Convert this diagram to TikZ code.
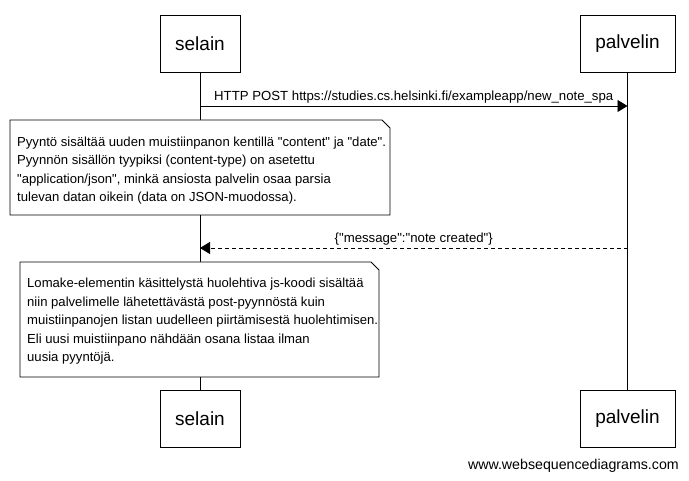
\documentclass[tikz,border=0pt]{standalone}
\usepackage{fontspec}
\setmainfont{Liberation Sans}[Ligatures=TeXOff]
\usetikzlibrary{arrows.meta}
\tikzset{
  actor/.style={draw, line width=0.9pt, fill=white, minimum width=80pt, minimum height=57pt, inner sep=0pt, font=\fontsize{19}{22}\selectfont},
  lifeline/.style={line width=0.9pt},
  msg/.style={line width=0.9pt, -{Triangle[length=10pt,width=12pt]}},
  reply/.style={msg, dash pattern=on 4pt off 3pt},
  msglabel/.style={font=\fontsize{13.2}{15}\selectfont, inner sep=0pt},
  notebox/.style={draw, line width=0.9pt, fill=white},
  notetext/.style={font=\fontsize{13.1}{18.5}\selectfont, align=left, inner sep=0pt, anchor=north west},
  foot/.style={font=\fontsize{14.2}{16}\selectfont, inner sep=0pt, anchor=east}
}
\begin{document}
\begin{tikzpicture}[x=1pt,y=-1pt]
\useasboundingbox (0,0) rectangle (689,481);
\fill[white] (0,0) rectangle (689,481);
% lifelines
\coordinate (sTop) at (200,72);
\coordinate (sBot) at (200,390);
\coordinate (pTop) at (627.5,72);
\coordinate (pBot) at (627.5,390);
\draw[lifeline] (sTop) -- (sBot);
\draw[lifeline] (pTop) -- (pBot);
% actors
\node[actor] (s1) at (200,43.5) {selain};
\node[actor, minimum width=95pt] (p1) at (627.5,43.5) {palvelin};
\node[actor] (s2) at (200,418.5) {selain};
\node[actor, minimum width=95pt] (p2) at (627.5,418.5) {palvelin};
% message 1
\coordinate (m1a) at (200,106);
\coordinate (m1b) at (627.5,106);
\draw[msg] (m1a) -- (m1b) node[msglabel, midway, above=2.5pt] (l1) {HTTP POST https://studies.cs.helsinki.fi/exampleapp/new\_note\_spa};
% note 1
\draw[notebox] (10,120) -- (382,120) -- (390,128) -- (390,215) -- (10,215) -- cycle;
\node[notetext] (n1) at (17,136.5) {Pyyntö sisältää uuden muistiinpanon kentillä "content" ja "date".\\
Pyynnön sisällön tyypiksi (content-type) on asetettu\\
"application/json", minkä ansiosta palvelin osaa parsia\\
tulevan datan oikein (data on JSON-muodossa).};
% message 2
\coordinate (m2a) at (627.5,248);
\coordinate (m2b) at (200,248);
\draw[reply] (m2a) -- (m2b) node[msglabel, midway, above=2.5pt] (l2) {\{"message":"note created"\}};
% note 2
\draw[notebox] (20,262) -- (371,262) -- (379,270) -- (379,377) -- (20,377) -- cycle;
\node[notetext] (n2) at (27,278) {Lomake-elementin käsittelystä huolehtiva js-koodi sisältää\\
niin palvelimelle lähetettävästä post-pyynnöstä kuin\\
muistiinpanojen listan uudelleen piirtämisestä huolehtimisen.\\
Eli uusi muistiinpano nähdään osana listaa ilman\\
uusia pyyntöjä.};
% footer
\node[foot] (ft) at (679,466) {www.websequencediagrams.com};
\end{tikzpicture}
\end{document}
